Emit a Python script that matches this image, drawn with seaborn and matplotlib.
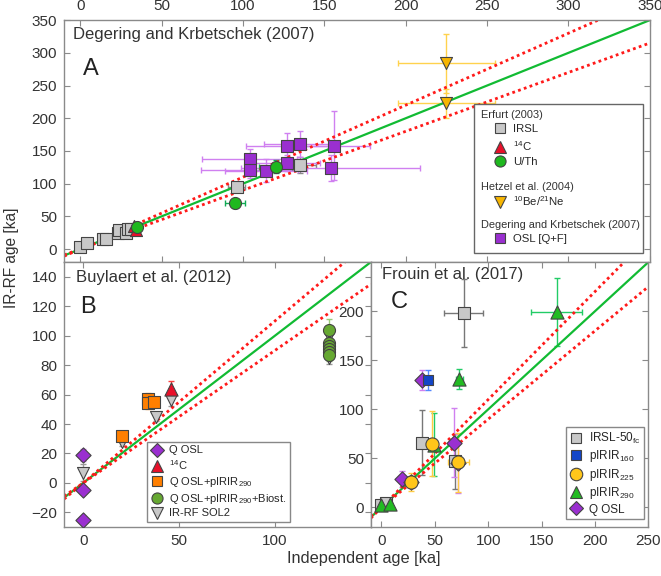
import numpy as np
import pandas as pd
import seaborn as sns
import matplotlib.pyplot as plt
from matplotlib.lines import Line2D
from matplotlib.legend import Legend
from matplotlib.patches import Rectangle

# ---------------- data ----------------
# panel A: Degering and Krbetschek (2007)
a_irsl_x = [0, 4, 14, 16, 23, 24, 28, 29, 31, 96, 135]
a_irsl_y = [3, 9, 15, 16, 24, 29, 25, 31, 30, 95, 129]
a_irsl_xerr = [2, 2, 2, 2, 2, 2, 2, 2, 2, 5, 10]
a_irsl_yerr = [3, 3, 3, 3, 3, 3, 3, 3, 3, 8, 12]

a_c14_x = [33, 34]
a_c14_y = [35, 29]
a_c14_yerr = [3, 3]

a_uth_x = [35, 95, 120]
a_uth_y = [33, 70, 126]
a_uth_xerr = [2, 6, 10]
a_uth_yerr = [3, 7, 10]

a_bene_x = [225, 225]
a_bene_y = [284, 223]
a_bene_xerr = [30, 30]
a_bene_yerr = [45, 22]

a_osl_x = [104, 104, 114, 127, 135, 127, 154, 156]
a_osl_y = [138, 121, 120, 158, 160, 132, 124, 158]
a_osl_xerr = [29, 30, 25, 25, 22, 20, 55, 22]
a_osl_yerr = [15, 12, 18, 20, 20, 12, 20, 53]

# panel B: Buylaert et al. (2012)
b_qosl_x = [0, 0, 0]
b_qosl_y = [19, -5, -25]
b_qosl_yerr = [4, 1, 1]

b_c14_x = [46]
b_c14_y = [64]
b_c14_yerr = [5]

b_pirir_x = [20, 34, 34, 37]
b_pirir_y = [32, 57, 54, 55]
b_pirir_yerr = [2, 4, 4, 3]

b_biost_x = [128, 128, 128, 128, 128, 128]
b_biost_y = [104, 95, 93, 91, 89, 87]
b_biost_yerr = [7, 4, 4, 4, 4, 4]

b_irrf_x = [0, 20, 38, 46, 128, 128]
b_irrf_y = [7, 28, 45, 56, 100, 85]
b_irrf_yerr = [6, 3, 3, 4, 4, 4]

# panel C: Frouin et al. (2017)
c_irsl_x = [0, 4, 38, 69, 77]
c_irsl_y = [2, 5, 66, 47, 198]
c_irsl_xerr = [1, 1, 2, 3, 18]
c_irsl_yerr = [2, 2, 33, 28, 35]

c_p160_x = [44]
c_p160_y = [130]
c_p160_yerr = [10]

c_p225_x = [28, 47, 72]
c_p225_y = [26, 65, 46]
c_p225_xerr = [3, 3, 10]
c_p225_yerr = [9, 33, 30]

c_p290_x = [0, 8, 49, 73, 164]
c_p290_y = [2, 3, 64, 131, 199]
c_p290_xerr = [1, 1, 2, 3, 24]
c_p290_yerr = [2, 2, 32, 10, 35]

c_qosl_x = [19, 28, 38, 68, 72]
c_qosl_y = [29, 26, 130, 66, 45]
c_qosl_yerr = [8, 6, 10, 35, 30]

# ---------------- style ----------------
sns.set_theme(style='white')
plt.rcParams['font.family'] = ['Liberation Sans', 'DejaVu Sans']
plt.rcParams['mathtext.default'] = 'regular'

SPINE = '#8a8a8a'
EDGE = '#444444'
TXT = '#333333'


def style_axes(ax, xlim, ylim, xticks, yticks, top_labels=False):
    ax.set_xlim(*xlim)
    ax.set_ylim(*ylim)
    ax.set_xticks(xticks)
    ax.set_yticks(yticks)
    for s in ax.spines.values():
        s.set_color(SPINE)
        s.set_linewidth(1.0)
    ax.tick_params(direction='in', length=4, width=0.8, color=SPINE,
                   labelsize=11, labelcolor=TXT,
                   top=True, right=True, bottom=True, left=True,
                   labeltop=top_labels, labelbottom=not top_labels, pad=5)
    ax.set_xlabel('')
    ax.set_ylabel('')


def ref_lines(ax, xlim):
    # 1:1 line and +/-10 % envelope
    xs = np.array(xlim, dtype=float)
    ax.plot(xs, xs, color='#11bb33', lw=1.6, zorder=2.5)
    for k in (1.1, 0.9):
        ax.plot(xs, k * xs, color='#ff1a1a', lw=2.0, ls=(0, (1, 1.2)),
                zorder=2.5)


def series(ax, x, y, marker, color, ecolor, xerr=None, yerr=None, s=75):
    ax.errorbar(x, y, xerr=xerr, yerr=yerr, fmt='none', ecolor=ecolor,
                elinewidth=1.0, capsize=2.5, capthick=1.0, zorder=2)
    df = pd.DataFrame({'x': x, 'y': y})
    sns.scatterplot(data=df, x='x', y='y', ax=ax, marker=marker, color=color,
                    s=s, edgecolor=EDGE, linewidth=0.8, zorder=3,
                    legend=False)


def mk(marker, color, ms=8):
    return Line2D([], [], ls='none', marker=marker, markerfacecolor=color,
                  markeredgecolor=EDGE, markeredgewidth=0.8, markersize=ms)


fig = plt.figure(figsize=(6.61, 5.76), dpi=100)
axA = fig.add_axes([0.097, 0.545, 0.886, 0.420])
axB = fig.add_axes([0.097, 0.085, 0.464, 0.460])
axC = fig.add_axes([0.561, 0.085, 0.420, 0.460])

GRAY = '#c8c8c8'
RED = '#e8102a'
GREEN = '#1fb81f'
YELLOW = '#f7b500'
PURPLE = '#9a2fd0'
ORANGE = '#ff7f00'
OLIVE = '#66a832'
BLUE = '#1346c8'
TRI_GREEN = '#22bb22'
GOLD = '#ffc61a'

# ---------------- panel A ----------------
ref_lines(axA, (-10, 350))
series(axA, a_irsl_x, a_irsl_y, 's', GRAY, '#888888', a_irsl_xerr, a_irsl_yerr)
series(axA, a_bene_x, a_bene_y, 'v', YELLOW, '#ffd24d', a_bene_xerr, a_bene_yerr)
series(axA, a_osl_x, a_osl_y, 's', PURPLE, '#d080f0', a_osl_xerr, a_osl_yerr)
series(axA, a_c14_x, a_c14_y, '^', RED, '#ff4040', None, a_c14_yerr)
series(axA, a_uth_x, a_uth_y, 'o', GREEN, '#11aa55', a_uth_xerr, a_uth_yerr)
style_axes(axA, (-10, 350), (-20, 350), np.arange(0, 351, 50),
           np.arange(0, 351, 50), top_labels=True)
axA.text(0.015, 0.94, 'Degering and Krbetschek (2007)', transform=axA.transAxes,
         fontsize=12, color=TXT, va='center')
axA.text(0.032, 0.80, 'A', transform=axA.transAxes, fontsize=17,
         color='#222222', va='center')

# grouped legend: one frame, a header text per study, entries below
axA.add_patch(Rectangle((0.70, 0.037), 0.288, 0.615, transform=axA.transAxes,
                        facecolor='white', edgecolor='#666666', lw=1.0,
                        zorder=5))


def group_legend(ax, handles, labels, title, title_y, anchor_y):
    ax.text(0.712, title_y, title, transform=ax.transAxes, fontsize=7.9,
            color=TXT, va='center', zorder=6)
    leg = Legend(ax, handles, labels, loc='upper left',
                 bbox_to_anchor=(0.733, anchor_y), bbox_transform=ax.transAxes,
                 frameon=False, fontsize=8.2, handletextpad=0.5,
                 labelspacing=0.4, borderpad=0, borderaxespad=0,
                 handlelength=1.2)
    leg.set_zorder(6)
    ax.add_artist(leg)


group_legend(axA, [mk('s', GRAY, 7), mk('^', RED), mk('o', GREEN)],
             ['IRSL', '$^{14}$C', 'U/Th'], 'Erfurt (2003)', 0.607, 0.57)
group_legend(axA, [mk('v', YELLOW)], ['$^{10}$Be/$^{21}$Ne'],
             'Hetzel et al. (2004)', 0.31, 0.28)
group_legend(axA, [mk('s', PURPLE, 7)], ['OSL [Q+F]'],
             'Degering and Krbetschek (2007)', 0.153, 0.115)

# ---------------- panel B ----------------
ref_lines(axB, (-10, 150))
series(axB, b_irrf_x, b_irrf_y, 'v', GRAY, '#999999', None, b_irrf_yerr)
series(axB, b_qosl_x, b_qosl_y, 'D', PURPLE, '#d080f0', None, b_qosl_yerr, s=60)
series(axB, b_c14_x, b_c14_y, '^', RED, '#ff4040', None, b_c14_yerr, s=90)
series(axB, b_pirir_x, b_pirir_y, 's', ORANGE, '#ffb060', None, b_pirir_yerr)
series(axB, b_biost_x, b_biost_y, 'o', OLIVE, '#99cc77', None, b_biost_yerr)
style_axes(axB, (-10, 150), (-30, 150), [0, 50, 100], np.arange(-20, 141, 20))
axB.text(0.04, 0.94, 'Buylaert et al. (2012)', transform=axB.transAxes,
         fontsize=12, color=TXT, va='center')
axB.text(0.052, 0.83, 'B', transform=axB.transAxes, fontsize=17,
         color='#222222', va='center')
legB = axB.legend([mk('D', PURPLE, 7), mk('^', RED, 9), mk('s', ORANGE, 7),
                   mk('o', OLIVE, 8), mk('v', GRAY, 9)],
                  ['Q OSL', '$^{14}$C', 'Q OSL+pIRIR$_{290}$',
                   'Q OSL+pIRIR$_{290}$+Biost.', 'IR-RF SOL2'],
                  loc='lower left', bbox_to_anchor=(0.27, 0.02), fontsize=8,
                  frameon=True, fancybox=False, edgecolor='#888888',
                  framealpha=1, handletextpad=0.5, labelspacing=0.25,
                  borderpad=0.3, borderaxespad=0, handlelength=1.2)
legB.get_frame().set_linewidth(1.0)

# ---------------- panel C ----------------
ref_lines(axC, (-10, 250))
series(axC, c_irsl_x, c_irsl_y, 's', GRAY, '#777777', c_irsl_xerr, c_irsl_yerr)
series(axC, c_p290_x, c_p290_y, '^', TRI_GREEN, '#22cc66', c_p290_xerr,
       c_p290_yerr, s=90)
series(axC, c_qosl_x, c_qosl_y, 'D', PURPLE, '#d080f0', None, c_qosl_yerr, s=60)
series(axC, c_p160_x, c_p160_y, 's', BLUE, '#5588ff', None, c_p160_yerr, s=60)
series(axC, c_p225_x, c_p225_y, 'o', GOLD, '#ffcc44', c_p225_xerr,
       c_p225_yerr, s=90)
style_axes(axC, (-10, 250), (-20, 250), np.arange(0, 251, 50),
           np.arange(0, 201, 50))
axC.text(0.04, 0.955, 'Frouin et al. (2017)', transform=axC.transAxes,
         fontsize=12, color=TXT, va='center')
axC.text(0.072, 0.85, 'C', transform=axC.transAxes, fontsize=17,
         color='#222222', va='center')
legC = axC.legend([mk('s', GRAY, 7), mk('s', BLUE, 7), mk('o', GOLD, 9),
                   mk('^', TRI_GREEN, 9), mk('D', PURPLE, 7)],
                  ['IRSL-50$_{fc}$', 'pIRIR$_{160}$', 'pIRIR$_{225}$',
                   'pIRIR$_{290}$', 'Q OSL'],
                  loc='lower right', bbox_to_anchor=(0.985, 0.03), fontsize=8.5,
                  frameon=True, fancybox=False, edgecolor='#888888',
                  framealpha=1, handletextpad=0.5, labelspacing=0.2,
                  borderpad=0.3, borderaxespad=0, handlelength=1.2)
legC.get_frame().set_linewidth(1.0)

fig.text(0.551, 0.022, 'Independent age [ka]', ha='center', fontsize=11.8,
         color=TXT)
fig.text(0.006, 0.552, 'IR-RF age [ka]', rotation=90, va='center',
         fontsize=11.2, color=TXT)

fig.savefig('out.png', dpi=100)
